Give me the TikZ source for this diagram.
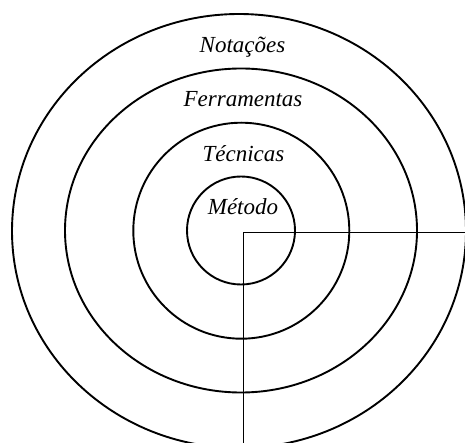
\documentclass[tikz,border=0pt]{standalone}
\usepackage{fontspec}
\setmainfont{Liberation Serif}
\begin{document}
\begin{tikzpicture}[x=1pt,y=-1pt,
  ring/.style={draw=black,line width=1.9pt},
  lbl/.style={font=\fontsize{23}{26}\selectfont\itshape,inner sep=0pt,anchor=base},
  axis/.style={draw=black,line width=1.9pt}]
\useasboundingbox (0,0) rectangle (465,443);
\clip (0,0) rectangle (465,443);
% rings
\draw[ring] (239,231) ellipse [x radius=227, y radius=217];
\draw[ring] (241,230.5) ellipse [x radius=176, y radius=162];
\draw[ring] (241.3,230.7) circle [radius=108];
\draw[ring] (241,230.5) circle [radius=54];
% labels
\node[lbl] (notacoes) at (242.5,52.7) {Notações};
\node[lbl] (ferramentas) at (243,107) {Ferramentas};
\node[lbl] (tecnicas) at (243.5,161.7) {Técnicas};
\node[lbl] (metodo) at (243,215) {Método};
% axes
\coordinate (corner) at (243.5,232.5);
\coordinate (rightend) at (466,232.5);
\coordinate (bottomend) at (243.5,444);
\draw[axis,line cap=rect] (rightend) -- (corner) -- (bottomend);
\end{tikzpicture}
\end{document}
